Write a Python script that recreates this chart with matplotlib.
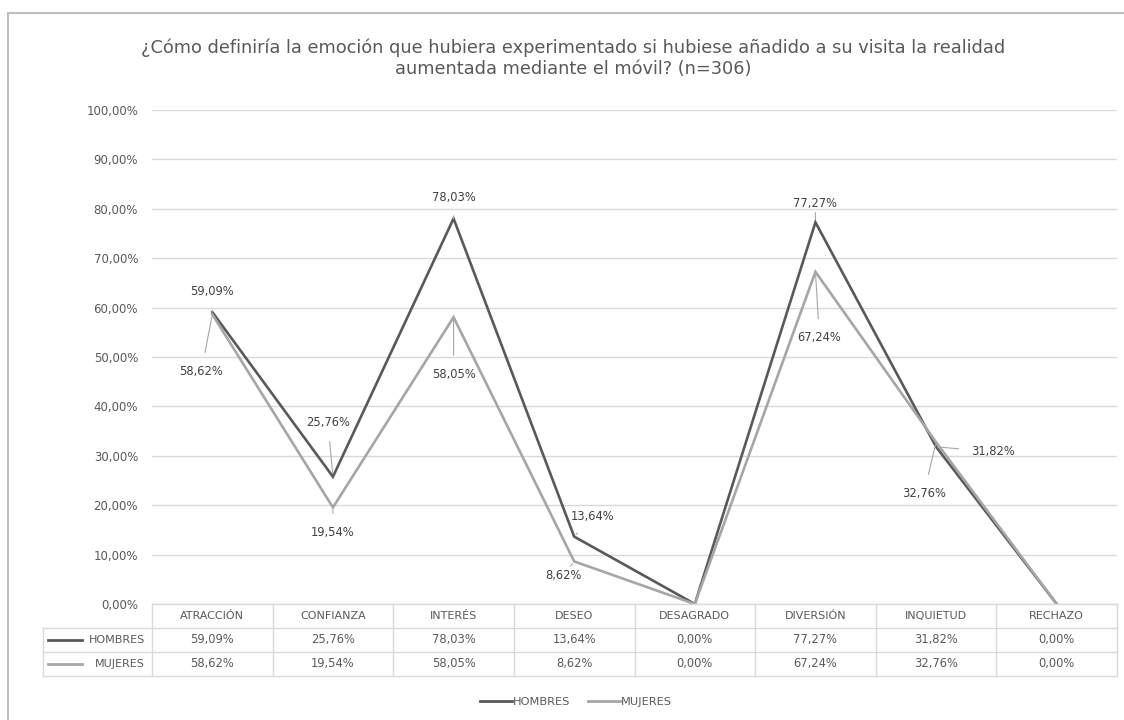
import numpy as np
import matplotlib.pyplot as plt
from matplotlib.patches import Rectangle
from matplotlib.lines import Line2D

plt.rcParams['font.family'] = ['DejaVu Sans']

# Datos
categorias = ['ATRACCIÓN', 'CONFIANZA', 'INTERÉS', 'DESEO',
              'DESAGRADO', 'DIVERSIÓN', 'INQUIETUD', 'RECHAZO']
hombres = [59.09, 25.76, 78.03, 13.64, 0.00, 77.27, 31.82, 0.00]
mujeres = [58.62, 19.54, 58.05, 8.62, 0.00, 67.24, 32.76, 0.00]
series = ['HOMBRES', 'MUJERES']

# desplazamiento de las etiquetas (px); None = sin etiqueta
off_h = [(0, 21), (-5, 54), (0, 21), (18, 20), None, (0, 19), (57, -5), None]
off_m = [(-11, -57), (0, -25), (0, -57), (-11, -14), None, (4, -66), (-12, -51), None]

c_h = '#595959'
c_m = '#a6a6a6'
c_grid = '#d9d9d9'
c_txt = '#595959'

W, H = 1124, 720
fig = plt.figure(figsize=(W / 100, H / 100), dpi=100)


def box(x0, y0, x1, y1):
    # caja en píxeles (origen arriba a la izquierda) -> fracción de figura
    return [x0 / W, 1 - y1 / H, (x1 - x0) / W, (y1 - y0) / H]


# borde del área del gráfico
fig.patches.append(Rectangle((8 / W, -0.1), 1.2, 1 - 13 / H + 0.1,
                             transform=fig.transFigure, fill=False,
                             edgecolor='#bfbfbf', lw=1.5))

fig.text(573 / W, 1 - 58 / H,
         '¿Cómo definiría la emoción que hubiera experimentado si hubiese añadido a su visita la realidad\n'
         'aumentada mediante el móvil? (n=306)',
         ha='center', va='center', fontsize=12.8, color=c_txt, linespacing=1.22)

x = np.arange(len(categorias))
ax = fig.add_axes(box(152, 110, 1117, 604))
ax.set_xlim(-0.5, len(categorias) - 0.5)
ax.set_ylim(0, 100)
ax.set_yticks(np.arange(0, 101, 10))
ax.set_yticklabels([f'{v:.2f}%'.replace('.', ',') for v in np.arange(0, 101, 10)])
ax.tick_params(axis='y', length=0, pad=10, labelsize=8.5, labelcolor=c_txt)
ax.set_xticks([])
ax.grid(axis='y', color=c_grid, lw=1)
ax.set_axisbelow(True)
for s in ax.spines.values():
    s.set_visible(False)

ax.plot(x, hombres, color=c_h, lw=1.9, solid_joinstyle='miter', zorder=3)
ax.plot(x, mujeres, color=c_m, lw=1.9, solid_joinstyle='miter', zorder=3)


def fmt(v):
    return f'{v:.2f}%'.replace('.', ',')


for vals, offs in [(hombres, off_h), (mujeres, off_m)]:
    for i, (v, o) in enumerate(zip(vals, offs)):
        if o is None:
            continue
        ax.annotate(fmt(v), (i, v), xytext=o, textcoords='offset pixels',
                    ha='center', va='center', fontsize=8.3, color='#404040',
                    arrowprops=dict(arrowstyle='-', color='#a6a6a6', lw=0.8,
                                    shrinkA=7, shrinkB=2))

# tabla de datos bajo el eje
tb = fig.add_axes(box(152, 604, 1117, 676))
tb.set_xlim(-0.5, len(categorias) - 0.5)
tb.set_ylim(3, 0)
tb.axis('off')
lk = dict(color=c_grid, lw=1, clip_on=False)
px = 1 / 120.6
x_left = -0.5 - (152 - 43) * px
tb.plot([-0.5, 7.5], [0, 0], **lk)
for yy in (1, 2, 3):
    tb.plot([x_left, 7.5], [yy, yy], **lk)
for xx in np.arange(-0.5, 8.0, 1):
    tb.plot([xx, xx], [0, 3], **lk)
tb.plot([x_left, x_left], [1, 3], **lk)

for i, c in enumerate(categorias):
    tb.text(i, 0.5, c, ha='center', va='center', fontsize=8, color=c_txt)
    tb.text(i, 1.5, fmt(hombres[i]), ha='center', va='center', fontsize=8.3, color=c_txt)
    tb.text(i, 2.5, fmt(mujeres[i]), ha='center', va='center', fontsize=8.3, color=c_txt)

for r, (name, col) in enumerate(zip(series, (c_h, c_m))):
    tb.plot([-0.5 - (152 - 48) * px, -0.5 - (152 - 82) * px], [r + 1.5] * 2,
            color=col, lw=2, clip_on=False)
    tb.text(-0.5 - 7 * px, r + 1.5, name, ha='right', va='center',
            fontsize=8, color=c_txt)

# leyenda
handles = [Line2D([], [], color=c_h, lw=2), Line2D([], [], color=c_m, lw=2)]
fig.legend(handles, series, loc='center', bbox_to_anchor=(576 / W, 1 - 702 / H),
           ncol=2, frameon=False, fontsize=8.2, handlelength=2.8,
           handletextpad=0.1, columnspacing=1.6, labelcolor=c_txt)

fig.savefig('out.png', dpi=100)
